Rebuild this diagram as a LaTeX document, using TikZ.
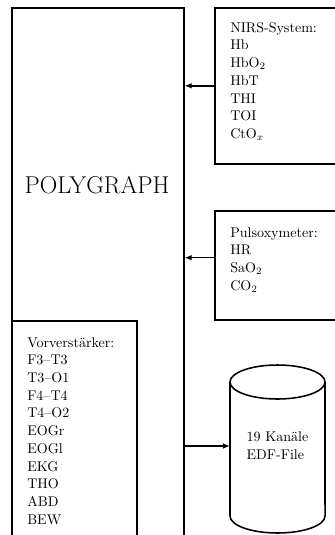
\documentclass[tikz,border=0pt]{standalone}
\usetikzlibrary{
  shapes.geometric,
  arrows.meta,
  positioning
}
\tikzset{
    box/.style={draw, rectangle, line width=1.1pt, inner sep=0pt, anchor=north west},
    liste/.style={align=left, anchor=north west, inner sep=0pt, font=\fontsize{10}{12.6}\selectfont},
    pfeil/.style={line width=1.1pt, -{Latex[length=5pt,width=4pt]}},
    speicher/.style={line width=1.1pt, x radius=1.1875cm, y radius=0.425cm}
}

\begin{document}
\begin{tikzpicture}[x=0.025cm, y=-0.025cm]
                \useasboundingbox (0,0) rectangle (335,535);
                \clip (0,0) rectangle (335,535);
                % Polygraph
                \node[box, minimum width=4.3cm, minimum height=15cm] (poly) at (11,7) {};
                \node[font=\fontsize{17.3}{20}\selectfont] (polytitel) at (97,185) {POLYGRAPH};
                % Vorverstaerker
                \node[box, minimum width=3.125cm, minimum height=6cm] (vor) at (11,320) {};
                \node[liste] (vortext) at (27,337) {Vorverstärker:\\F3--T3\\T3--O1\\F4--T4\\T4--O2\\EOGr\\EOGl\\EKG\\THO\\ABD\\BEW};
                % NIRS
                \node[box, minimum width=3.5cm, minimum height=3.9cm] (nirs) at (214,7) {};
                \node[liste] (nirstext) at (230,22) {NIRS-System:\\Hb\\HbO$_2$\\HbT\\THI\\TOI\\CtO$_x$};
                % Pulsoxymeter
                \node[box, minimum width=3.5cm, minimum height=2.725cm] (puls) at (214,210) {};
                \node[liste] (pulstext) at (230,227) {Pulsoxymeter:\\HR\\SaO$_2$\\CO$_2$};
                % EDF (Zylinder)
                \draw[speicher] (277.5,382) ellipse [];
                \draw[speicher] (230,382) -- (230,516) arc [start angle=180, end angle=360] -- (325,382);
                \coordinate (edf) at (230,446);
                \node[align=left, font=\fontsize{10}{12.6}\selectfont] (edftext) at (277.5,446) {19 Kanäle\\EDF-File};
                % Pfeile
                \draw[pfeil] (nirs.west) -- (nirs.west -| poly.east);
                \draw[pfeil] ([yshift=0.19cm]puls.west) -- ([yshift=0.19cm]puls.west -| poly.east);
                \draw[pfeil] (edf -| poly.east) -- (edf);
            \end{tikzpicture}
\end{document}
